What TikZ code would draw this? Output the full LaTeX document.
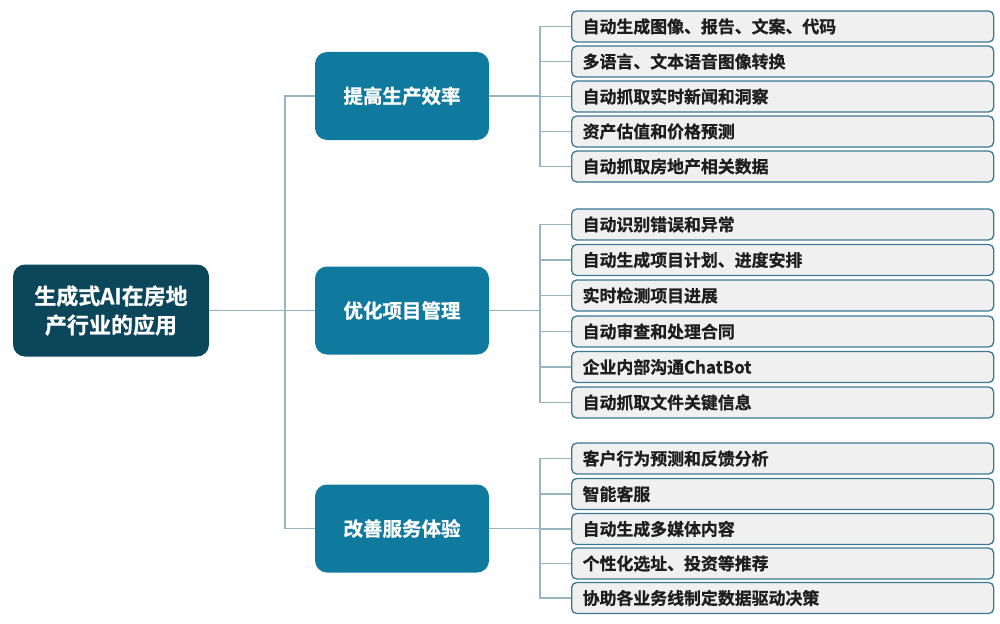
\documentclass[tikz,border=0pt]{standalone}
\usepackage{fontspec}
\newfontfamily\cjk{Noto Sans CJK SC}[BoldFont={Noto Sans CJK SC Bold},BoldFeatures={FakeBold=0.8}]
\definecolor{rootc}{HTML}{0B465A}
\definecolor{catc}{HTML}{10799E}
\definecolor{leaff}{HTML}{F0F0F0}
\definecolor{leafd}{HTML}{3C7890}
\definecolor{linec}{HTML}{97B4C1}
\definecolor{txtc}{HTML}{1E1E1E}
\begin{document}
\begin{tikzpicture}[x=1pt,y=-1pt,
  rootbox/.style={rectangle,rounded corners=12pt,fill=rootc,draw=none,
    minimum width=196pt,minimum height=92pt,align=center,text=white,
    font=\cjk\bfseries\fontsize{22}{29}\selectfont},
  catbox/.style={rectangle,rounded corners=12pt,fill=catc,draw=none,
    minimum width=174pt,minimum height=88pt,text=white,
    font=\cjk\bfseries\fontsize{19.5}{23}\selectfont},
  leafbox/.style={rectangle,rounded corners=5pt,fill=leaff,draw=leafd,line width=1.3pt,
    minimum height=31pt,inner xsep=11pt,inner ysep=0pt,text width=400pt,align=left,
    anchor=west,text=txtc,font=\cjk\bfseries\fontsize{16.9}{20}\selectfont},
  conn/.style={draw=linec,line width=1.4pt}]
\useasboundingbox (0,0) rectangle (1000,623);
\coordinate (sp) at (285,0);
\coordinate (br) at (540,0);
\node[rootbox] (root) at (111,310.5) {生成式AI在房地\\产行业的应用};
\node[catbox] (c1) at (402,96) {提高生产效率};
\node[catbox] (c2) at (402,310.5) {优化项目管理};
\node[catbox] (c3) at (402,528.5) {改善服务体验};
% group 1
\node[leafbox] (a1) at (571,26.5) {自动生成图像、报告、文案、代码};
\node[leafbox] (a2) at (571,61.5) {多语言、文本语音图像转换};
\node[leafbox] (a3) at (571,96.5) {自动抓取实时新闻和洞察};
\node[leafbox] (a4) at (571,131.5) {资产估值和价格预测};
\node[leafbox] (a5) at (571,166.5) {自动抓取房地产相关数据};
% group 2
\node[leafbox] (b1) at (571,224.5) {自动识别错误和异常};
\node[leafbox] (b2) at (571,260) {自动生成项目计划、进度安排};
\node[leafbox] (b3) at (571,295.5) {实时检测项目进展};
\node[leafbox] (b4) at (571,331.5) {自动审查和处理合同};
\node[leafbox] (b5) at (571,367) {企业内部沟通ChatBot};
\node[leafbox] (b6) at (571,402.5) {自动抓取文件关键信息};
% group 3
\node[leafbox] (d1) at (571,458.5) {客户行为预测和反馈分析};
\node[leafbox] (d2) at (571,494) {智能客服};
\node[leafbox] (d3) at (571,529) {自动生成多媒体内容};
\node[leafbox] (d4) at (571,563.5) {个性化选址、投资等推荐};
\node[leafbox] (d5) at (571,598) {协助各业务线制定数据驱动决策};
% spine
\draw[conn] (root.east) -- (c2.west);
\draw[conn] (c1.west) -- (c1.west -| sp) -- (c3.west -| sp) -- (c3.west);
% brackets
\draw[conn] (c1.east) -- (c1.east -| br);
\draw[conn] (a1.west) -- (a1.west -| br) -- (a5.west -| br) -- (a5.west);
\foreach \n in {a2,a3,a4} \draw[conn] (\n.west) -- (\n.west -| br);
\draw[conn] (c2.east) -- (c2.east -| br);
\draw[conn] (b1.west) -- (b1.west -| br) -- (b6.west -| br) -- (b6.west);
\foreach \n in {b2,b3,b4,b5} \draw[conn] (\n.west) -- (\n.west -| br);
\draw[conn] (c3.east) -- (c3.east -| br);
\draw[conn] (d1.west) -- (d1.west -| br) -- (d5.west -| br) -- (d5.west);
\foreach \n in {d2,d3,d4} \draw[conn] (\n.west) -- (\n.west -| br);
\end{tikzpicture}
\end{document}
